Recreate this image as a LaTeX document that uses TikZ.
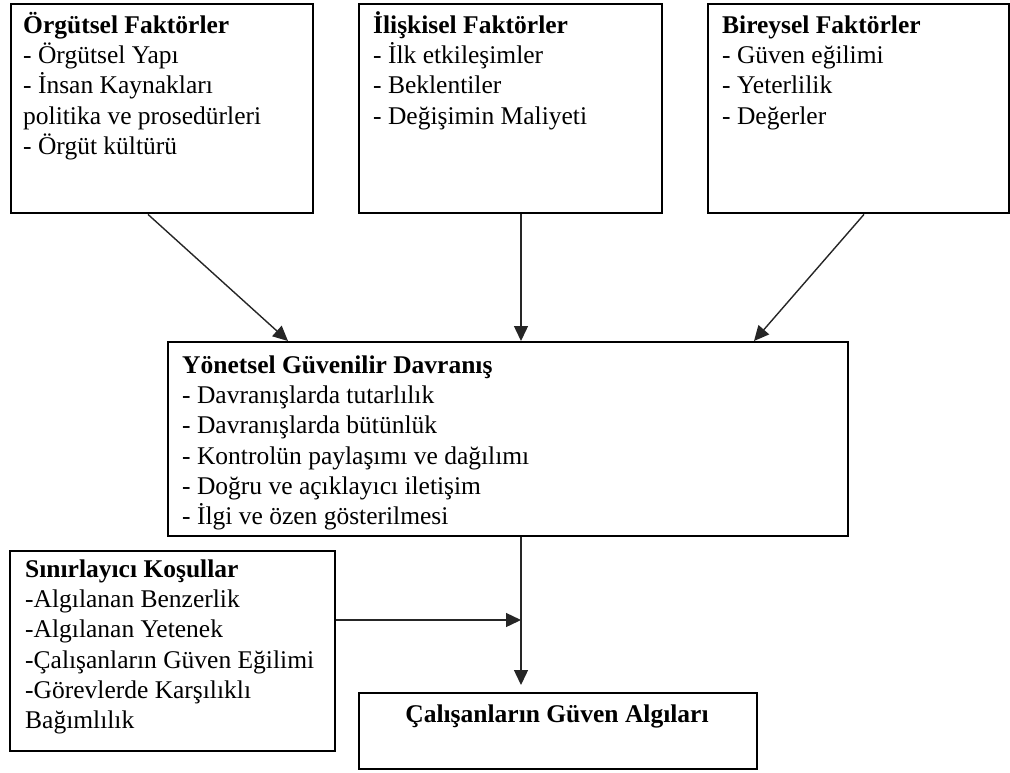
\documentclass[tikz,border=0pt]{standalone}
\usepackage{fontspec}
\setmainfont{Liberation Serif}
\usetikzlibrary{arrows.meta,calc}

\begin{document}
\begin{tikzpicture}[x=1pt,y=-1pt,
  box/.style={draw=black,line width=2.4pt,fill=white,inner sep=0pt,
    anchor=north west,minimum width=#1},
  boxtext/.style={anchor=north west,inner sep=0pt,align=left,
    font=\fontsize{25.5}{30.3}\selectfont},
  link/.style={line width=1.4pt,draw=black!85,
    -{Triangle[length=15pt,width=14pt]}}]
\useasboundingbox (0,0) rectangle (1010,772);

% factor boxes on the top row
\node[box=302.5pt,minimum height=209pt] (org) at (9.5,3) {};
\node[box=303pt,minimum height=209pt] (ili) at (358,3) {};
\node[box=301pt,minimum height=209pt] (bir) at (707,3) {};
% central behaviour box
\node[box=680pt,minimum height=194pt] (yon) at (167,341) {};
% moderating conditions and outcome
\node[box=325pt,minimum height=200pt] (sin) at (9,550) {};
\node[box=398pt,minimum height=76pt] (cal) at (358,692) {};

% box contents (the rule fixes the first line's height)
\node[boxtext] (orgtxt) at ([xshift=13.5pt,yshift=-6pt]org.north west)
  {\rule{0pt}{24pt}\textbf{Örgütsel Faktörler}\\
   - Örgütsel Yapı\\
   - İnsan Kaynakları\\
   politika ve prosedürleri\\
   - Örgüt kültürü};
\node[boxtext] (ilitxt) at ([xshift=15pt,yshift=-6pt]ili.north west)
  {\rule{0pt}{24pt}\textbf{İlişkisel Faktörler}\\
   - İlk etkileşimler\\
   - Beklentiler\\
   - Değişimin Maliyeti};
\node[boxtext] (birtxt) at ([xshift=15pt,yshift=-6pt]bir.north west)
  {\rule{0pt}{24pt}\textbf{Bireysel Faktörler}\\
   - Güven eğilimi\\
   - Yeterlilik\\
   - Değerler};
\node[boxtext] (yontxt) at ([xshift=15pt,yshift=-8pt]yon.north west)
  {\rule{0pt}{24pt}\textbf{Yönetsel Güvenilir Davranış}\\
   - Davranışlarda tutarlılık\\
   - Davranışlarda bütünlük\\
   - Kontrolün paylaşımı ve dağılımı\\
   - Doğru ve açıklayıcı iletişim\\
   - İlgi ve özen gösterilmesi};
\node[boxtext] (sintxt) at ([xshift=16pt,yshift=-3pt]sin.north west)
  {\rule{0pt}{24pt}\textbf{Sınırlayıcı Koşullar}\\
   -Algılanan Benzerlik\\
   -Algılanan Yetenek\\
   -Çalışanların Güven Eğilimi\\
   -Görevlerde Karşılıklı\\
   Bağımlılık};
\node[inner sep=0pt,font=\fontsize{25.5}{30.3}\selectfont\bfseries] (caltxt)
  at (557,716) {Çalışanların Güven Algıları};

% connectors
\coordinate (join) at (521,620);
\draw[link] ([xshift=138.5pt]org.south west) -- ([xshift=121pt]yon.north west);
\draw[link] ([xshift=163pt]ili.south west) -- ([xshift=354pt]yon.north west);
\draw[link] ([xshift=157pt]bir.south west) -- ([xshift=587pt]yon.north west);
\draw[link,shorten >=7pt] ([xshift=354pt]yon.south west) -- ([xshift=163pt]cal.north west);
\draw[link] (sin.east |- join) -- (join);
\end{tikzpicture}
\end{document}
